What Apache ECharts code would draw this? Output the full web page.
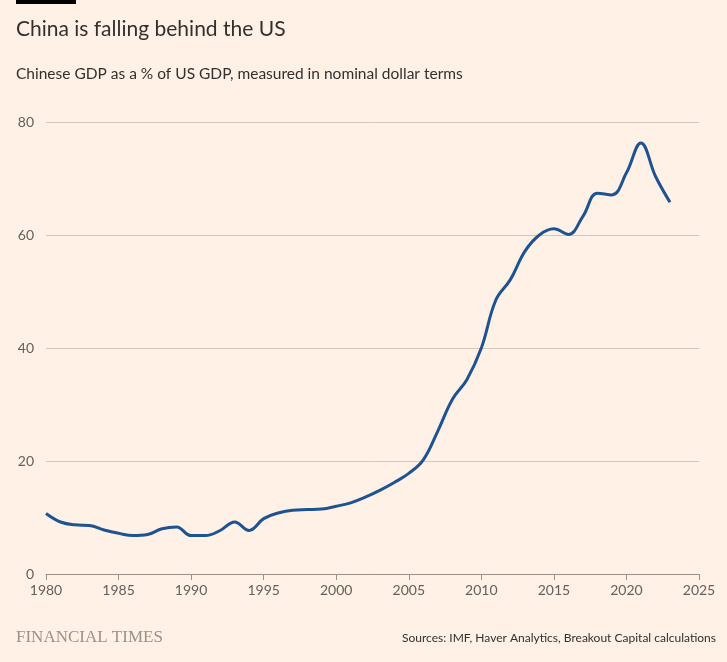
<!DOCTYPE html>
<html>
<head>
<meta charset="utf-8">
<script src="https://cdn.jsdelivr.net/npm/echarts@6/dist/echarts.min.js"></script>
<style>
html,body{margin:0;padding:0;background:#FFF1E5;}
#c{width:727px;height:662px;}
</style>
</head>
<body>
<div id="c"></div>
<script>
const years = [1980,1981,1982,1983,1984,1985,1986,1987,1988,1989,1990,1991,1992,1993,1994,1995,1996,1997,1998,1999,2000,2001,2002,2003,2004,2005,2006,2007,2008,2009,2010,2011,2012,2013,2014,2015,2016,2017,2018,2019,2020,2021,2022,2023];
const gdpShare = [10.7,9.2,8.7,8.6,7.8,7.2,6.8,7.0,8.0,8.3,6.8,6.8,7.7,9.2,7.7,9.8,10.8,11.3,11.4,11.5,12.0,12.6,13.6,14.8,16.2,17.8,20.2,25.3,30.9,34.4,40.0,48.5,52.1,57.1,60.0,61.1,60.1,63.3,67.4,67.1,71.0,76.3,70.4,65.8];
const yTicks = [0,20,40,60,80];
const xTicks = [1980,1985,1990,1995,2000,2005,2010,2015,2020,2025];

const chart = echarts.init(document.getElementById('c'));
const font = 'Lato, "Open Sans", "Noto Sans", sans-serif';
chart.setOption({
  backgroundColor: '#FFF1E5',
  animation: false,
  title: [
    {text: 'China is falling behind the US', left: 16, top: 19, padding: 0,
     textStyle: {fontFamily: font, fontSize: 21, fontWeight: 'normal', color: '#33302e'}},
    {text: 'Chinese GDP as a % of US GDP, measured in nominal dollar terms', left: 16, top: 66, padding: 0,
     textStyle: {fontFamily: font, fontSize: 15.5, fontWeight: 'normal', color: '#33302e'}}
  ],
  graphic: [
    {type: 'rect', left: 16, top: 0, shape: {width: 60, height: 4}, style: {fill: '#000'}},
    {type: 'text', left: 16, top: 629, style: {text: 'FINANCIAL TIMES', font: '17px "Liberation Serif", "DejaVu Serif", serif', fill: '#9a918a'}},
    {type: 'text', right: 11, top: 632, style: {text: 'Sources: IMF, Haver Analytics, Breakout Capital calculations', font: '12px ' + font, fill: '#33302e'}}
  ],
  grid: {left: 46, right: 28, top: 122, bottom: 88, containLabel: false},
  xAxis: {
    type: 'value', min: 1980, max: 2025, interval: 5,
    axisLine: {show: true, lineStyle: {color: '#9a918a', width: 1}},
    axisTick: {show: true, length: 6, lineStyle: {color: '#9a918a'}},
    axisLabel: {color: '#66605c', fontFamily: font, fontSize: 14, margin: 9,
      formatter: v => xTicks.includes(v) ? String(v) : ''},
    splitLine: {show: false}
  },
  yAxis: {
    type: 'value', min: 0, max: 80, interval: 20,
    axisLine: {show: false}, axisTick: {show: false},
    axisLabel: {color: '#66605c', fontFamily: font, fontSize: 14, margin: 12,
      formatter: v => yTicks.includes(v) ? String(v) : ''},
    splitLine: {show: true, lineStyle: {color: '#d3c7bc', width: 1}}
  },
  series: [{
    type: 'line', smooth: 0.4, showSymbol: false,
    data: years.map((y, i) => [y, gdpShare[i]]),
    lineStyle: {color: '#1d5393', width: 3},
    z: 5
  }]
});
</script>
</body>
</html>
